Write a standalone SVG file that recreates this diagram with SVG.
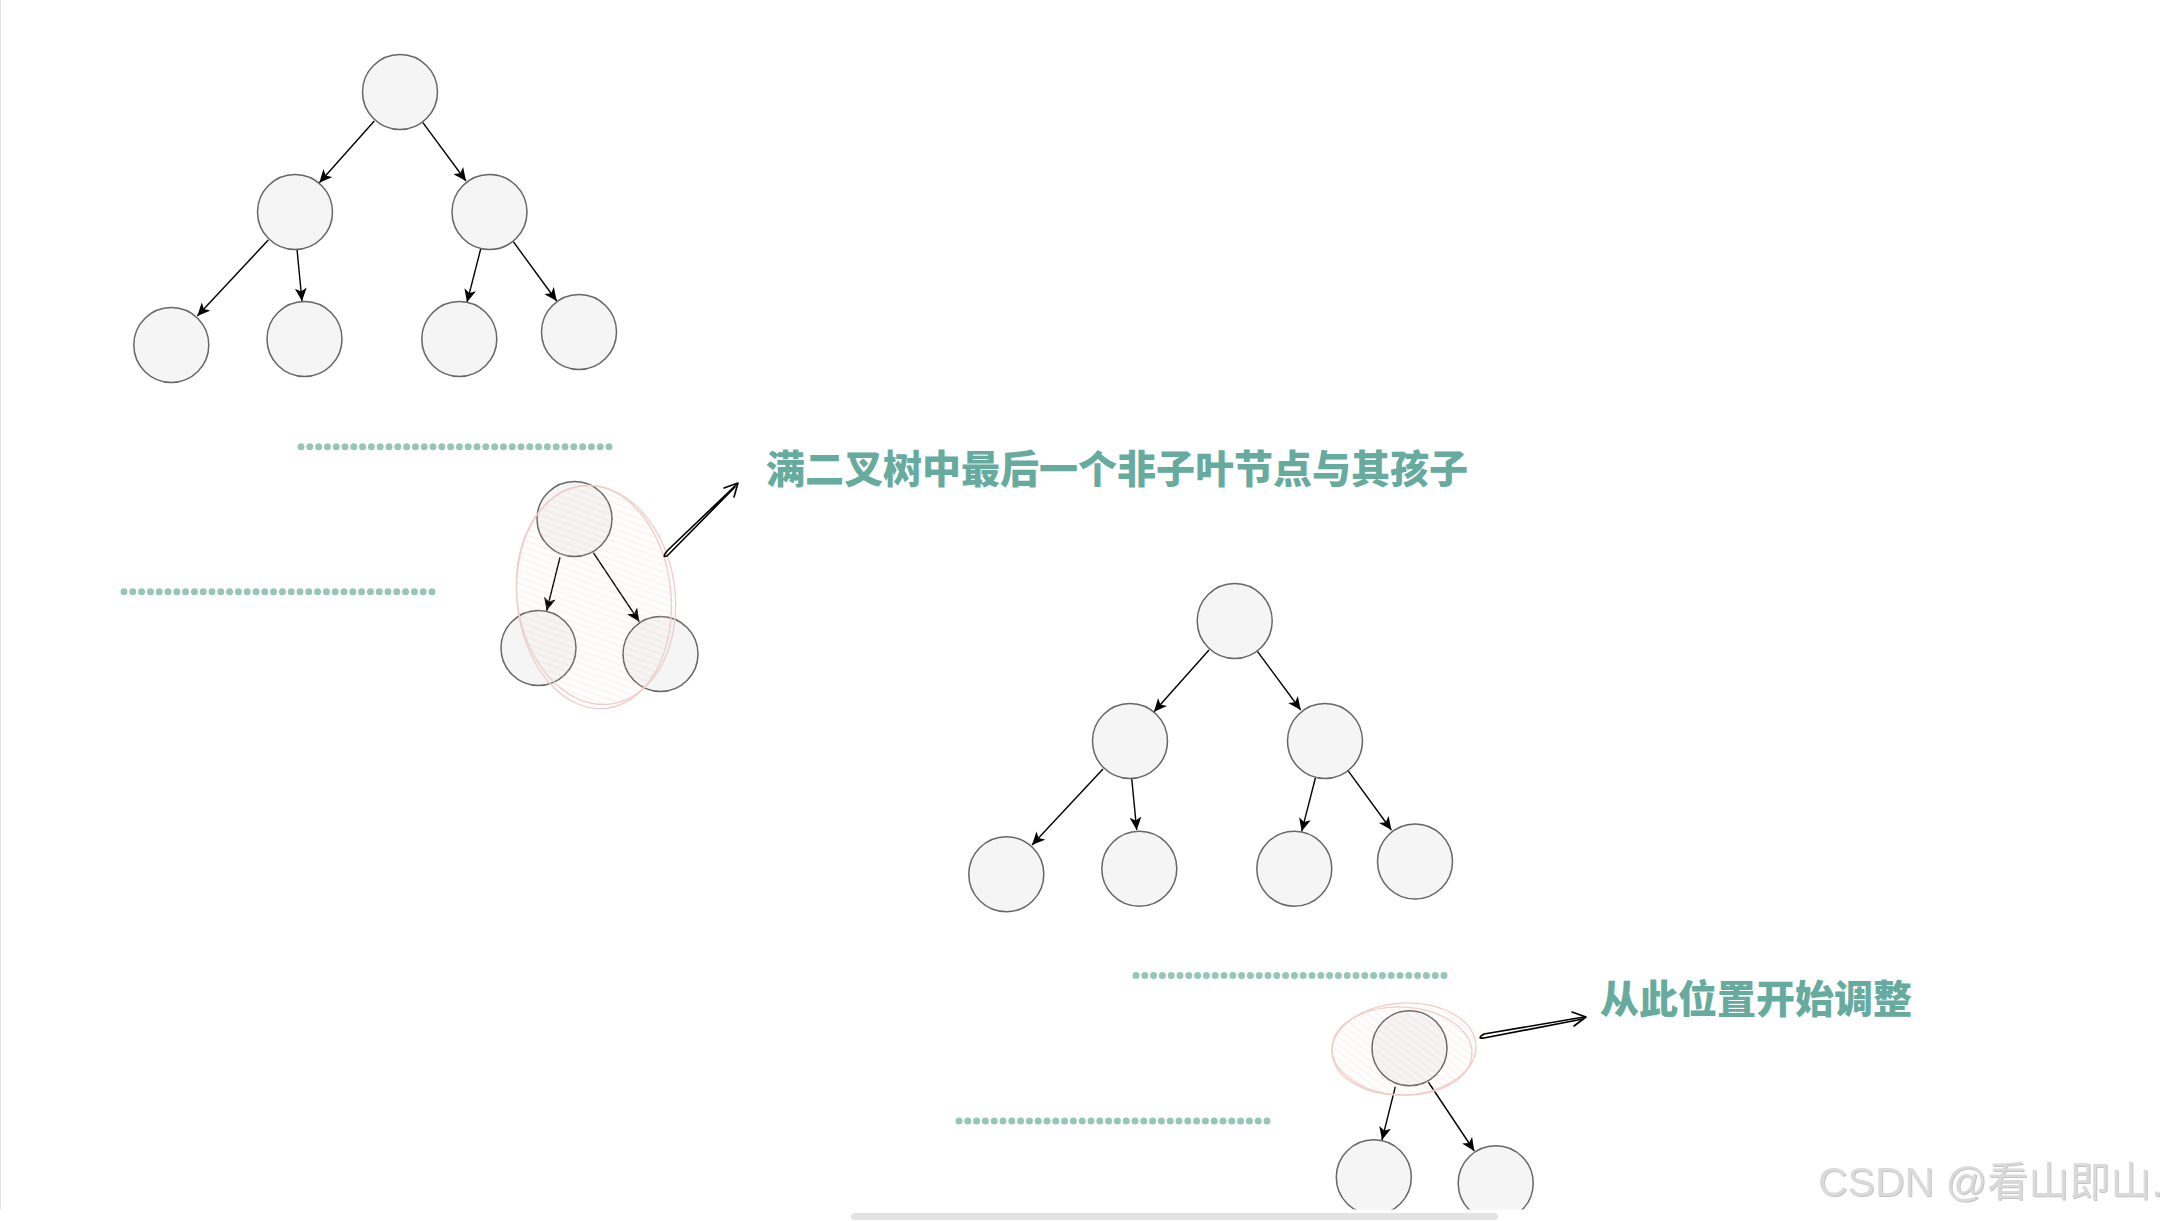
<svg xmlns="http://www.w3.org/2000/svg" width="2163" height="1221" viewBox="0 0 2163 1221">
<style>
.node{fill:#f5f5f5;stroke:#666666;stroke-width:1.5}
.edge{stroke:#000;stroke-width:1.4;fill:none;marker-end:url(#classic)}
.dots{stroke:#96C6B8;stroke-width:7;stroke-linecap:round;stroke-dasharray:0 8.8;fill:none}
.hl{fill:none;stroke:#efcdc8;stroke-width:1.3}
.sk{fill:none;stroke:#000;stroke-width:1.6;stroke-linecap:round;stroke-linejoin:round}
.label{font-family:"Noto Sans CJK SC","Noto Sans",sans-serif;font-weight:900;font-size:39px;fill:#67AB9F}
.wm{font-family:"Liberation Sans","Noto Sans CJK SC",sans-serif;font-size:41px;fill:#dadada}
</style>
<defs>
<marker id="classic" viewBox="0 0 13 12" refX="13" refY="6" markerWidth="13" markerHeight="12" markerUnits="userSpaceOnUse" orient="auto">
<path d="M0,0 L13,6 L0,12 L3.5,6 Z" fill="#000"/>
</marker>
<pattern id="hach1" patternUnits="userSpaceOnUse" width="8" height="6" patternTransform="rotate(28)">
<line x1="0" y1="3" x2="8" y2="3" stroke="#f0c6c0" stroke-width="0.8"/>
</pattern>
<pattern id="hach2" patternUnits="userSpaceOnUse" width="8" height="6" patternTransform="rotate(40)">
<line x1="0" y1="3" x2="8" y2="3" stroke="#f0c6c0" stroke-width="0.8"/>
</pattern>
<filter id="wmshadow" x="-5%" y="-20%" width="110%" height="140%">
<feDropShadow dx="1" dy="1" stdDeviation="0.5" flood-color="#b5b5b5" flood-opacity="0.8"/>
</filter>
</defs>
<rect x="0" y="0" width="2163" height="1221" fill="#ffffff"/>
<line x1="0.5" y1="0" x2="0.5" y2="1221" stroke="#e2e2e2" stroke-width="1"/>

<g id="dotted-lines">
<line class="dots" x1="301" y1="446.7" x2="612" y2="446.7"/>
<line class="dots" x1="124" y1="591.7" x2="436" y2="591.7"/>
<line class="dots" x1="1136" y1="975.5" x2="1448" y2="975.5"/>
<line class="dots" x1="959" y1="1121" x2="1271" y2="1121"/>
</g>

<g id="connectors">
<line class="edge" x1="374.3" y1="121" x2="319.3" y2="182.7"/>
<line class="edge" x1="422.7" y1="122.3" x2="466" y2="181"/>
<line class="edge" x1="268.3" y1="240" x2="197.3" y2="316"/>
<line class="edge" x1="297" y1="249.3" x2="302" y2="301"/>
<line class="edge" x1="480.7" y1="249" x2="467" y2="302.3"/>
<line class="edge" x1="513.3" y1="241.7" x2="556.7" y2="301"/>

<line class="edge" x1="1209" y1="650" x2="1154" y2="711.7"/>
<line class="edge" x1="1257.4" y1="651.3" x2="1300.7" y2="710"/>
<line class="edge" x1="1103" y1="769" x2="1032" y2="845"/>
<line class="edge" x1="1131.7" y1="778.3" x2="1136.7" y2="830"/>
<line class="edge" x1="1315.4" y1="778" x2="1301.7" y2="831.3"/>
<line class="edge" x1="1348" y1="770.7" x2="1391.4" y2="830"/>

<line class="edge" x1="560" y1="557.3" x2="546.7" y2="610.7"/>
<line class="edge" x1="593.3" y1="552.7" x2="639.3" y2="621.7"/>

<line class="edge" x1="1395.3" y1="1086.6" x2="1382" y2="1140"/>
<line class="edge" x1="1428.3" y1="1082" x2="1474.3" y2="1151"/>
</g>

<g id="t1-root"><circle class="node" cx="400" cy="92" r="37.5"/></g>
<g id="t1-l"><circle class="node" cx="295" cy="212" r="37.5"/></g>
<g id="t1-r"><circle class="node" cx="489.5" cy="212" r="37.5"/></g>
<g id="t1-ll"><circle class="node" cx="171.3" cy="345" r="37.5"/></g>
<g id="t1-lr"><circle class="node" cx="304.5" cy="339" r="37.5"/></g>
<g id="t1-rl"><circle class="node" cx="459.3" cy="339" r="37.5"/></g>
<g id="t1-rr"><circle class="node" cx="579" cy="332" r="37.5"/></g>

<g id="t2-root"><circle class="node" cx="1234.7" cy="621" r="37.5"/></g>
<g id="t2-l"><circle class="node" cx="1130" cy="741" r="37.5"/></g>
<g id="t2-r"><circle class="node" cx="1325" cy="741" r="37.5"/></g>
<g id="t2-ll"><circle class="node" cx="1006.3" cy="874.3" r="37.5"/></g>
<g id="t2-lr"><circle class="node" cx="1139.3" cy="868.7" r="37.5"/></g>
<g id="t2-rl"><circle class="node" cx="1294.3" cy="868.7" r="37.5"/></g>
<g id="t2-rr"><circle class="node" cx="1415" cy="861.5" r="37.5"/></g>

<g id="s1-top"><circle class="node" cx="574.5" cy="519" r="37.5"/></g>
<g id="s1-l"><circle class="node" cx="538.5" cy="648" r="37.5"/></g>
<g id="s1-r"><circle class="node" cx="660.5" cy="654" r="37.5"/></g>

<g id="s2-top"><circle class="node" cx="1409.5" cy="1048.3" r="37.5"/></g>
<g id="s2-l"><circle class="node" cx="1373.8" cy="1177.3" r="37.5"/></g>
<g id="s2-r"><circle class="node" cx="1495.7" cy="1183.3" r="37.5"/></g>

<g id="highlight-1">
<ellipse cx="596" cy="595" rx="78" ry="110" transform="rotate(-8 596 595)" fill="url(#hach1)" opacity="0.5"/>
<ellipse class="hl" cx="596" cy="595" rx="79" ry="110" transform="rotate(-8 596 595)"/>
<ellipse class="hl" cx="594" cy="597" rx="77" ry="112" transform="rotate(-6 594 597)"/>
</g>
<g id="highlight-2">
<ellipse cx="1404" cy="1049" rx="71" ry="45" transform="rotate(-3 1404 1049)" fill="url(#hach2)" opacity="0.5"/>
<ellipse class="hl" cx="1404" cy="1049" rx="72" ry="46" transform="rotate(-3 1404 1049)"/>
<ellipse class="hl" cx="1402" cy="1051" rx="70" ry="44" transform="rotate(3 1402 1051)"/>
</g>

<g id="sketch-arrow-1">
<path class="sk" d="M737,484 L668,550 Q661,558 667,556 L735,487"/>
<path class="sk" d="M724,488 L738,483 L734,497"/>
</g>
<g id="sketch-arrow-2">
<path class="sk" d="M1584,1017 L1484,1034 Q1476,1039 1484,1038 L1583,1019"/>
<path class="sk" d="M1572,1012 L1586,1017 L1574,1026"/>
</g>

<g id="label-1"><text class="label" x="766" y="483">满二叉树中最后一个非子叶节点与其孩子</text></g>
<g id="label-2"><text class="label" x="1600" y="1013">从此位置开始调整</text></g>

<rect x="0" y="1209.5" width="2163" height="11.5" fill="#ffffff"/>
<rect x="851" y="1213" width="647" height="7" rx="3.5" fill="#e3e3e3"/>

<text class="wm" x="1818" y="1196" filter="url(#wmshadow)">CSDN @看山即山.</text>
</svg>
